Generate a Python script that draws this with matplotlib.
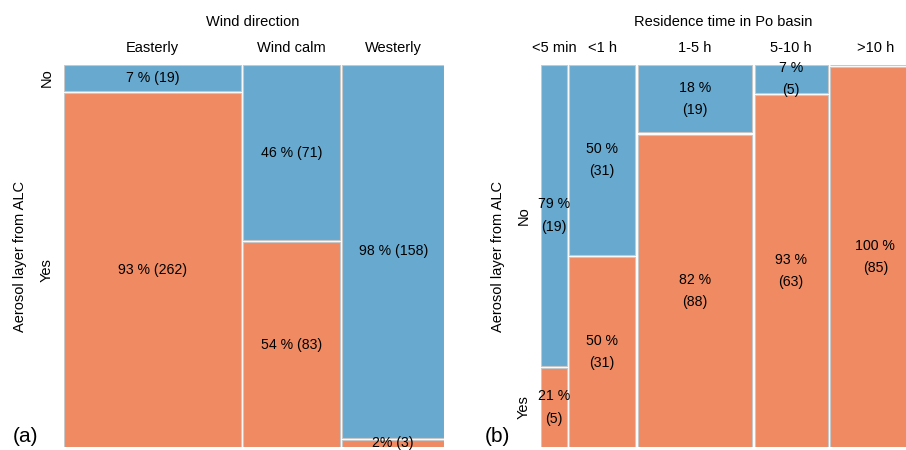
import matplotlib
matplotlib.use("Agg")
import matplotlib.pyplot as plt

plt.rcParams['font.family'] = ['Liberation Sans', 'DejaVu Sans']

# panel (a): wind direction
wind_cats = ["Easterly", "Wind calm", "Westerly"]
wind_no = [19, 71, 158]
wind_yes = [262, 83, 3]
wind_no_lbl = ["7 % (19)", "46 % (71)", "98 % (158)"]
wind_yes_lbl = ["93 % (262)", "54 % (83)", "2% (3)"]

# panel (b): residence time in Po basin
res_cats = ["<5 min", "<1 h", "1-5 h", "5-10 h", ">10 h"]
res_no = [19, 31, 19, 5, 0]
res_yes = [5, 31, 88, 63, 85]
res_no_lbl = ["79 %\n(19)", "50 %\n(31)", "18 %\n(19)", "7 %\n(5)", ""]
res_yes_lbl = ["21 %\n(5)", "50 %\n(31)", "82 %\n(88)", "93 %\n(63)", "100 %\n(85)"]

blue = "#67a9cf"
orange = "#ef8a62"
W, H = 906, 450


def mosaic(ax, cats, no, yes, no_lbl, yes_lbl):
    gap = 0.0055
    tot = [a + b for a, b in zip(no, yes)]
    avail = 1 - gap * (len(cats) - 1)
    x = 0
    for i in range(len(cats)):
        w = tot[i] / sum(tot) * avail
        hy = yes[i] / tot[i] * (1 - gap)
        hn = no[i] / tot[i] * (1 - gap)
        ax.bar(x, hy, width=w, bottom=0, align='edge', color=orange,
               edgecolor='#c8c8c8', linewidth=0.8)
        ax.bar(x, hn, width=w, bottom=hy + gap, align='edge', color=blue,
               edgecolor='#c8c8c8', linewidth=0.8)
        cx = x + w / 2
        ax.text(cx, hy / 2, yes_lbl[i], ha='center', va='center', fontsize=10.2,
                linespacing=1.75)
        if no_lbl[i]:
            ax.text(cx, hy + gap + hn / 2, no_lbl[i], ha='center', va='center',
                    fontsize=10.2, linespacing=1.75)
        ax.text(cx, 1.045, cats[i], ha='center', va='center', fontsize=10.5,
                transform=ax.transAxes)
        if i == 0:
            ax.text(-0.045, hy / 2, "Yes", rotation=90, ha='center', va='center',
                    fontsize=10.5)
            ax.text(-0.045, hy + gap + hn / 2, "No", rotation=90, ha='center',
                    va='center', fontsize=10.5)
        x += w + gap
    ax.set_xlim(0, 1)
    ax.set_ylim(0, 1)
    ax.axis('off')


fig = plt.figure(figsize=(W / 100, H / 100), dpi=100)
axa = fig.add_axes([64 / W, 3 / H, 380 / W, 382 / H])
axb = fig.add_axes([541 / W, 3 / H, 380 / W, 382 / H])

mosaic(axa, wind_cats, wind_no, wind_yes, wind_no_lbl, wind_yes_lbl)
mosaic(axb, res_cats, res_no, res_yes, res_no_lbl, res_yes_lbl)

fig.text(253 / W, 1 - 22 / H, "Wind direction", ha='center', va='center', fontsize=10.5)
fig.text(723 / W, 1 - 22 / H, "Residence time in Po basin", ha='center', va='center', fontsize=10.5)
fig.text(20 / W, 1 - 257 / H, "Aerosol layer from ALC", rotation=90, ha='center', va='center', fontsize=10.5)
fig.text(498 / W, 1 - 257 / H, "Aerosol layer from ALC", rotation=90, ha='center', va='center', fontsize=10.5)
fig.text(25 / W, 1 - 437 / H, "(a)", ha='center', va='center', fontsize=15)
fig.text(497 / W, 1 - 437 / H, "(b)", ha='center', va='center', fontsize=15)

fig.savefig("out.png", dpi=100)
